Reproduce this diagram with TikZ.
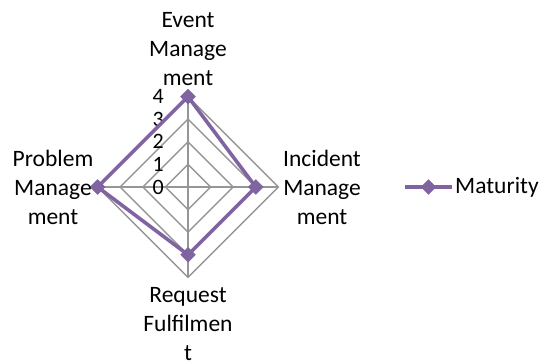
\documentclass[tikz,border=0pt]{standalone}
\usepackage{fontspec}
\setmainfont{Carlito}
\usetikzlibrary{shapes.geometric,calc}
\definecolor{serpurple}{HTML}{8064A2}
\definecolor{gridgray}{HTML}{969696}
\tikzset{
  lbl/.style={align=center,font=\fontsize{23.5}{29}\selectfont,inner sep=0pt,text=black},
  tick/.style={anchor=east,font=\fontsize{22}{22}\selectfont,inner sep=0pt,text=black},
  gridline/.style={draw=gridgray,line width=1.4pt},
  serline/.style={draw=serpurple,line width=3.6pt,line join=miter},
  marker/.style={diamond,fill=serpurple,draw=serpurple,inner sep=0pt,minimum width=15pt,minimum height=15pt}
}
\begin{document}
\begin{tikzpicture}[x=1pt,y=-1pt]
\useasboundingbox (0,0) rectangle (545,363);
\def\r{22.6}
\coordinate (C) at (188,187);
% grid diamonds
\foreach \k in {1,2,3,4}{
  \draw[gridline] ($(C)+(0,-\k*\r)$) -- ($(C)+(\k*\r,0)$) -- ($(C)+(0,\k*\r)$) -- ($(C)+(-\k*\r,0)$) -- cycle;
}
\coordinate (T4) at ($(C)+(0,-4*\r)$);
\coordinate (R4) at ($(C)+(4*\r,0)$);
\coordinate (B4) at ($(C)+(0,4*\r)$);
\coordinate (L4) at ($(C)+(-4*\r,0)$);
\draw[gridline] (C) -- (T4);
\draw[gridline] (C) -- (R4);
\draw[gridline] (C) -- (B4);
\draw[gridline] (C) -- (L4);
% tick labels
\foreach \k in {0,1,2,3,4}{
  \node[tick] (t\k) at ($(C)+(-24,-\k*\r)$) {\k};
}
% data
\coordinate (pE) at ($(C)+(0,-4*\r)$);
\coordinate (pI) at ($(C)+(3*\r,0)$);
\coordinate (pR) at ($(C)+(0,3*\r)$);
\coordinate (pP) at ($(C)+(-4*\r,0)$);
\draw[serline] (pE) -- (pI) -- (pR) -- (pP) -- cycle;
\node[marker] (mE) at (pE) {};
\node[marker] (mI) at (pI) {};
\node[marker] (mR) at (pR) {};
\node[marker] (mP) at (pP) {};
% axis labels
\node[lbl] (lE) at (188,49.5) {Event\\Manage\\ment};
\node[lbl] (lI) at (322,187) {Incident\\Manage\\ment};
\node[lbl] (lR) at (188,324) {Request\\Fulfilmen\\t};
\node[lbl] (lP) at (53,187) {Problem\\Manage\\ment};
% legend
\coordinate (g1) at (405,187);
\coordinate (g2) at (452,187);
\draw[serline] (g1) -- (g2);
\node[marker] (gm) at ($(g1)!0.5!(g2)$) {};
\node[lbl,anchor=west] (gl) at (455,187) {Maturity};
\end{tikzpicture}
\end{document}
